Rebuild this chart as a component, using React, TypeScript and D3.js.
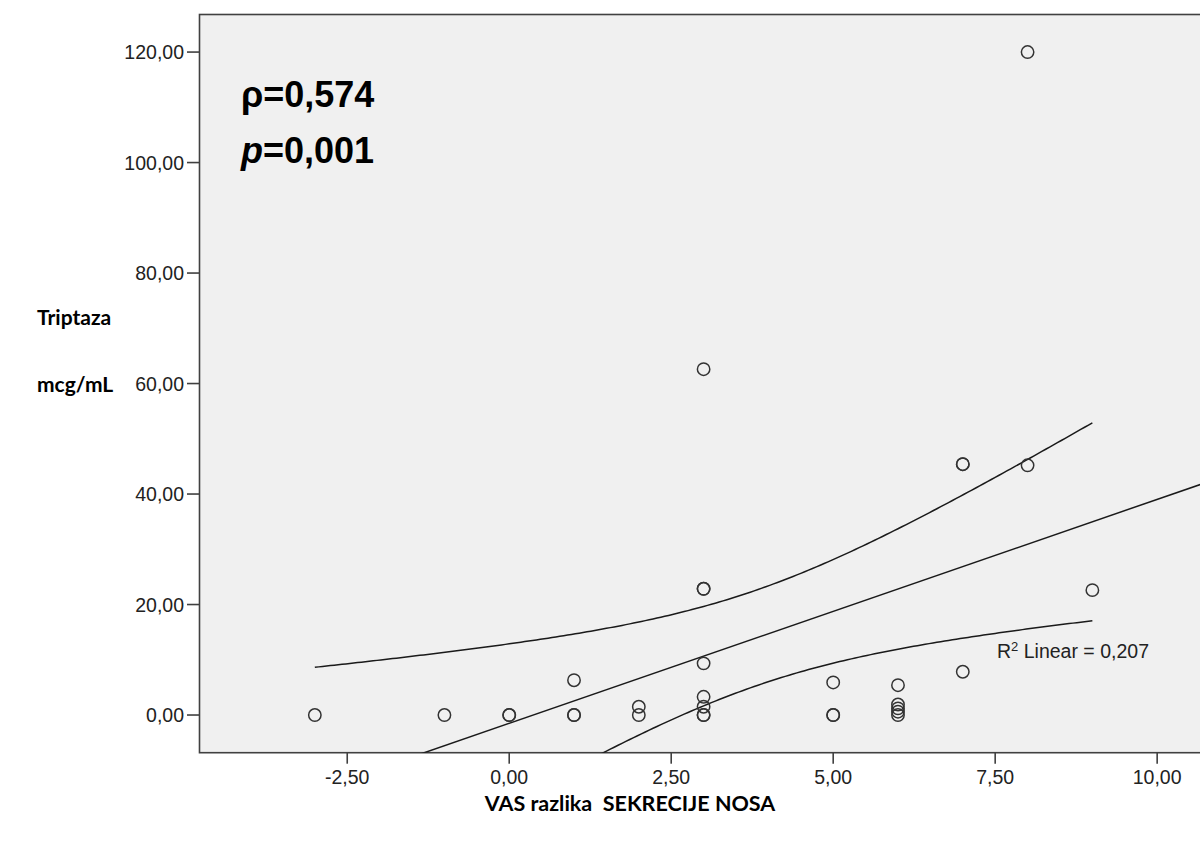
import React from 'react';
import * as d3 from 'd3';

// ---- data ----
const vasDiff = [-3, -1, 0, 0, 1, 1, 1, 2, 2, 3, 3, 3, 3, 3, 3, 3, 3, 5, 5, 5, 6, 6, 6, 6, 6, 7, 7, 7, 8, 8, 9];
const tryptase = [0, 0, 0, 0, 0, 0, 6.3, 0, 1.5, 62.6, 22.85, 22.85, 9.35, 3.3, 1.5, 0, 0, 5.9, 0, 0, 5.4, 1.9, 1.2, 0.6, 0, 45.4, 45.4, 7.83, 45.2, 120, 22.6];

const xTicks = [-2.5, 0, 2.5, 5, 7.5, 10];
const yTicks = [0, 20, 40, 60, 80, 100, 120];
const xDomain = [-4.78, 10.8];
const yDomain = [-6.82, 126.8];

const rhoText = 'ρ=0,574';
const pText = '=0,001';
const r2Text = ' Linear = 0,207';
const yLabel1 = 'Triptaza';
const yLabel2 = 'mcg/mL';
const xLabel = 'VAS razlika  SEKRECIJE NOSA';

// ---- layout ----
const W = 1200;
const H = 843;
const plot = { left: 199.5, top: 14.5, right: 1209, bottom: 752.7 };

const locale = d3.formatLocale({ decimal: ',', thousands: '.', grouping: [3], currency: ['', ''], minus: '-' });
const fmt = locale.format('.2f');

function tCrit(df: number) {
  const z = 1.959964;
  return z + (z ** 3 + z) / (4 * df) + (5 * z ** 5 + 16 * z ** 3 + 3 * z) / (96 * df * df);
}

export default function App() {
  const x = d3.scaleLinear().domain(xDomain).range([plot.left, plot.right]);
  const y = d3.scaleLinear().domain(yDomain).range([plot.bottom, plot.top]);

  // linear regression with mean confidence band
  const n = vasDiff.length;
  const mx = d3.mean(vasDiff) as number;
  const my = d3.mean(tryptase) as number;
  let sxx = 0, sxy = 0, syy = 0;
  for (let i = 0; i < n; i++) {
    sxx += (vasDiff[i] - mx) ** 2;
    sxy += (vasDiff[i] - mx) * (tryptase[i] - my);
    syy += (tryptase[i] - my) ** 2;
  }
  const slope = sxy / sxx;
  const intercept = my - slope * mx;
  const sse = syy - slope * sxy;
  const s = Math.sqrt(sse / (n - 2));
  const t = tCrit(n - 2);
  const fit = (v: number) => intercept + slope * v;
  const hw = (v: number) => t * s * Math.sqrt(1 / n + (v - mx) ** 2 / sxx);

  const [xmin, xmax] = d3.extent(vasDiff) as [number, number];
  const samples = d3.range(0, 201).map((i) => xmin + (i / 200) * (xmax - xmin));
  const line = d3.line<[number, number]>().x((d) => x(d[0])).y((d) => y(d[1]));
  const upper = line(samples.map((v) => [v, fit(v) + hw(v)]));
  const lower = line(samples.map((v) => [v, fit(v) - hw(v)]));
  const fitLine = line([[xDomain[0], fit(xDomain[0])], [xDomain[1], fit(xDomain[1])]]);

  const axisColor = '#404040';
  const tickFont = '"Liberation Sans", Arial, sans-serif';
  const labelFont = 'Lato, "Open Sans", sans-serif';

  return (
    <svg width={W} height={H} style={{ position: 'absolute', left: 0, top: 0, background: '#fff' }}>
      <defs>
        <clipPath id="plotClip">
          <rect x={plot.left} y={plot.top} width={plot.right - plot.left} height={plot.bottom - plot.top} />
        </clipPath>
      </defs>
      <rect x={0} y={0} width={W} height={H} fill="#ffffff" />
      <rect x={plot.left} y={plot.top} width={plot.right - plot.left} height={plot.bottom - plot.top}
        fill="#f0f0f0" stroke={axisColor} strokeWidth={1.6} />

      {/* y ticks */}
      {yTicks.map((v) => (
        <g key={'y' + v}>
          <line x1={187} x2={plot.left} y1={y(v)} y2={y(v)} stroke={axisColor} strokeWidth={1.6} />
          <text x={184} y={y(v)} dy="0.36em" textAnchor="end" fontFamily={tickFont} fontSize={19.5} fill="#222">
            {fmt(v)}
          </text>
        </g>
      ))}
      {/* x ticks */}
      {xTicks.map((v) => (
        <g key={'x' + v}>
          <line x1={x(v)} x2={x(v)} y1={plot.bottom} y2={plot.bottom + 11} stroke={axisColor} strokeWidth={1.6} />
          <text x={x(v)} y={784} textAnchor="middle" fontFamily={tickFont} fontSize={19.5} fill="#222">
            {fmt(v)}
          </text>
        </g>
      ))}

      <g clipPath="url(#plotClip)" fill="none" stroke="#1a1a1a" strokeWidth={1.5}>
        <path d={fitLine || ''} />
        <path d={upper || ''} />
        <path d={lower || ''} />
      </g>

      {/* points */}
      <g fill="none" stroke="#333" strokeWidth={1.5}>
        {vasDiff.map((v, i) => (
          <circle key={i} cx={x(v)} cy={y(tryptase[i])} r={6.2} />
        ))}
      </g>

      {/* R2 label */}
      <text x={997} y={658} fontFamily={tickFont} fontSize={19.5} fill="#222">
        <tspan>R</tspan>
        <tspan dy={-7} fontSize={13}>2</tspan>
        <tspan dy={7}>{r2Text}</tspan>
      </text>

      {/* annotations */}
      <text x={241} y={107} fontFamily={tickFont} fontWeight="bold" fontSize={36} fill="#000">{rhoText}</text>
      <text x={241} y={163} fontFamily={tickFont} fontWeight="bold" fontSize={36} fill="#000">
        <tspan fontStyle="italic">p</tspan>
        <tspan>{pText}</tspan>
      </text>

      {/* axis titles */}
      <text x={37} y={325} fontFamily={labelFont} fontWeight="bold" fontSize={21} fill="#000">{yLabel1}</text>
      <text x={37} y={392} fontFamily={labelFont} fontWeight="bold" fontSize={21} fill="#000">{yLabel2}</text>
      <text x={630} y={811} textAnchor="middle" fontFamily={labelFont} fontWeight="bold" fontSize={21.5} fill="#000"
        style={{ whiteSpace: 'pre' }}>{xLabel}</text>
    </svg>
  );
}
